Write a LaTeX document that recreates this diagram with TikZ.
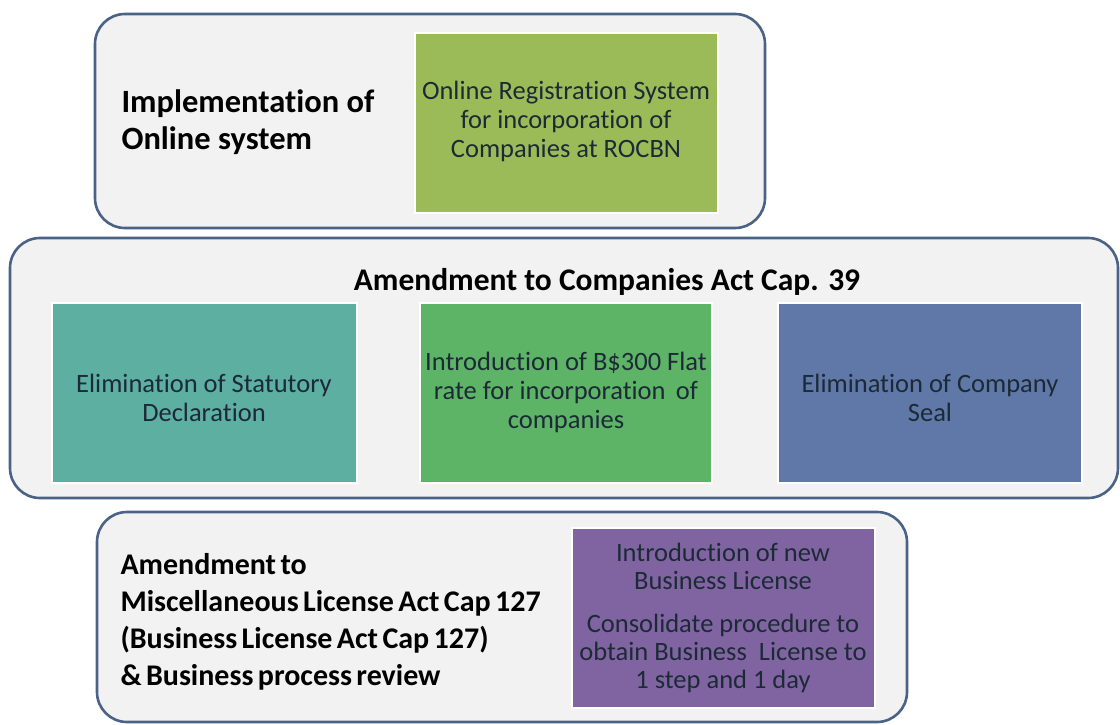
\documentclass[tikz,border=0pt]{standalone}
\usepackage{fontspec}
\setmainfont{Carlito}[Ligatures=NoCommon]
\newfontfamily\tightfont{Carlito}[WordSpace=0.65,Ligatures=NoCommon]
\definecolor{outerfill}{HTML}{F2F2F2}
\definecolor{outerline}{HTML}{4A6286}
\definecolor{cgreenA}{HTML}{9BBB59}
\definecolor{cteal}{HTML}{5DAFA2}
\definecolor{cgreenB}{HTML}{5DB467}
\definecolor{cblue}{HTML}{5F78A8}
\definecolor{cpurple}{HTML}{8064A2}
\definecolor{boxtext}{HTML}{1C2A36}
\begin{document}
\begin{tikzpicture}[x=1pt,y=-1pt,
  outerbox/.style={draw=outerline, fill=outerfill, line width=2.6pt, rounded corners=30pt},
  inrect/.style={draw=white, line width=1.2pt},
  intext/.style={font=\fontsize{26.5}{29}\selectfont, text=boxtext, align=center},
  headtext/.style={text=black, align=left}]
\useasboundingbox (0,0) rectangle (1120,725);
\fill[white] (0,0) rectangle (1120,725);
% top block
\draw[outerbox] (95,14) rectangle (765,228);
\fill[cgreenA] (415,33) rectangle (718,213);
\draw[inrect] (415,33) rectangle (718,213);
\node[headtext, anchor=west, font=\fontsize{32.5}{37}\selectfont\bfseries] (impl) at (118,122) {Implementation of\\Online system};
\node[intext] (online) at (566,121) {Online Registration System\\for incorporation of\\Companies at ROCBN};
% middle block
\draw[outerbox] (10,238) rectangle (1118,498);
\node[font=\fontsize{31.5}{36}\selectfont\bfseries] (amend) at (607,282) {Amendment to Companies Act Cap. 39};
\fill[cteal] (52,303) rectangle (357,483);
\draw[inrect] (52,303) rectangle (357,483);
\node[intext] (stat) at (204,398) {Elimination of Statutory\\Declaration};
\fill[cgreenB] (420,303) rectangle (712,483);
\draw[inrect] (420,303) rectangle (712,483);
\node[intext] (flat) at (566,392) {Introduction of B\$300 Flat\\rate for incorporation\ \,of\\companies};
\fill[cblue] (778,303) rectangle (1082,483);
\draw[inrect] (778,303) rectangle (1082,483);
\node[intext] (seal) at (930,398) {Elimination of Company\\Seal};
% bottom block
\draw[outerbox] (97,512) rectangle (907,722);
\fill[cpurple] (572,528) rectangle (875,708);
\draw[inrect] (572,528) rectangle (875,708);
\node[headtext, anchor=west, font=\tightfont\fontsize{30}{37}\selectfont\bfseries] (misc) at (117,622) {Amendment to\\Miscellaneous License Act Cap 127\\(Business License Act Cap 127)\\\& Business process review};
\node[intext, font=\fontsize{26.5}{28}\selectfont] (lic) at (723,566) {Introduction of new\\Business License};
\node[intext, font=\fontsize{26.5}{28}\selectfont] (cons) at (723,653) {Consolidate procedure to\\obtain Business\ \ License to\\1 step and 1 day};
\end{tikzpicture}
\end{document}
